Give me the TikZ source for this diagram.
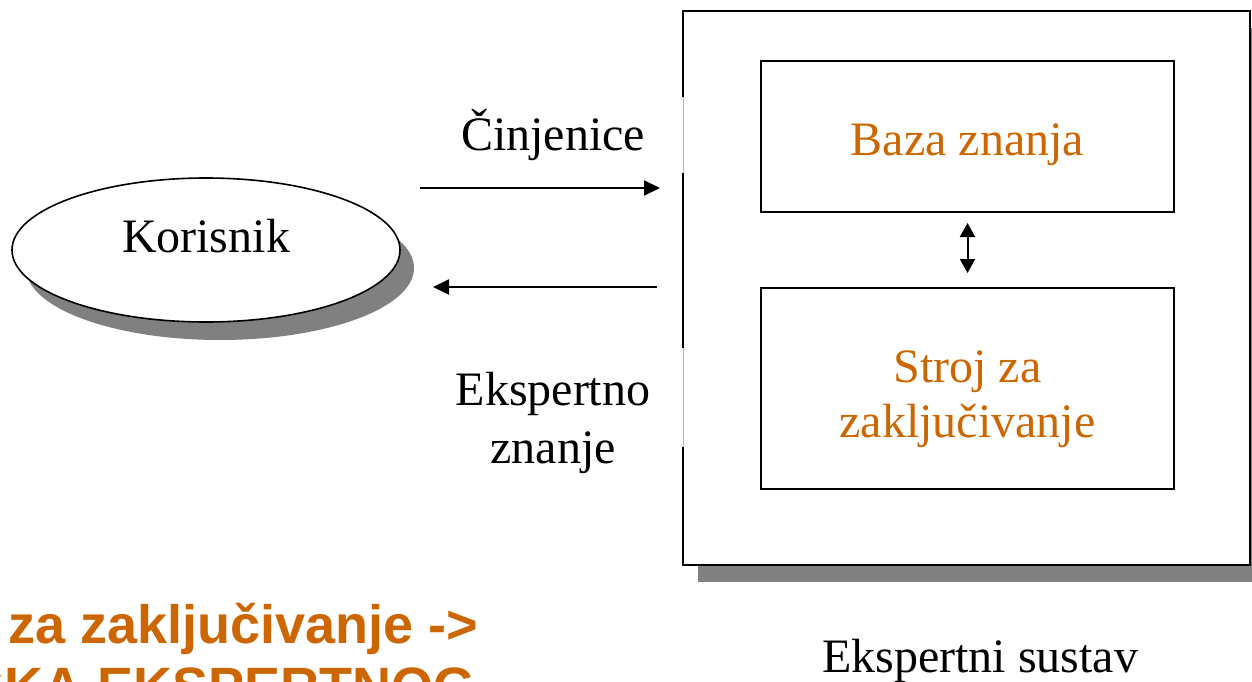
\documentclass[tikz,border=0pt]{standalone}
\usepackage{fontspec}
\setmainfont{Liberation Serif}
\newfontfamily\slidesans{Liberation Sans}
\usetikzlibrary{arrows.meta,shadows,shapes.geometric}
\definecolor{accent}{RGB}{204,102,0}
\definecolor{shade}{RGB}{128,128,128}
\begin{document}
\begin{tikzpicture}[x=1pt,y=-1pt,
  lbl/.style={font=\fontsize{48}{48}\selectfont, inner sep=0pt, anchor=base},
  acc/.style={lbl, text=accent},
  headline/.style={font=\slidesans\bfseries\fontsize{54}{54}\selectfont, text=accent, inner sep=0pt, anchor=base east},
  frame/.style={draw=black, line width=2pt},
  inbox/.style={draw=black, line width=2pt, fill=white, inner sep=0pt, minimum width=413pt},
  flow/.style={line width=2pt, -{Triangle[length=16pt,width=15pt]}},
  both/.style={line width=2pt, {Triangle[length=14pt,width=15pt]}-{Triangle[length=14pt,width=15pt]}}
]
\useasboundingbox (0,0) rectangle (1252,682);
\begin{scope}
\clip (0,0) rectangle (1252,682);

% user ellipse with its solid shadow
\node[ellipse, draw, line width=1.6pt, fill=white, minimum width=388pt, minimum height=144pt, inner sep=0pt,
      general shadow={fill=shade, shadow xshift=14pt, shadow yshift=-18pt}] (user) at (206,250) {};
\node[lbl] (userlbl) at (206,252) {Korisnik};

% expert system frame
\node[fill=white, minimum width=567pt, minimum height=554pt, inner sep=0pt,
      general shadow={fill=shade, shadow xshift=15pt, shadow yshift=-17pt}] (sys) at (966.5,288) {};
\draw[frame] (sys.west |- 0,97) -- (sys.north west) -- (sys.north east) -- (sys.south east) -- (sys.south west) -- (sys.west |- 0,447);
\draw[frame] (sys.west |- 0,173) -- (sys.west |- 0,348);
\draw[gray!55, line width=0.6pt] (sys.west |- 0,97) -- (sys.west |- 0,173) (sys.west |- 0,348) -- (sys.west |- 0,447);

% inner components
\node[inbox, minimum height=151pt] (kb) at (967.5,136.5) {};
\node[acc] (kblbl) at (967.5,155) {Baza znanja};
\node[inbox, minimum height=201pt] (ie) at (967.5,388.5) {};
\node[acc] (ielbl1) at (967.5,382) {Stroj za};
\node[acc] (ielbl2) at (967.5,437) {zaključivanje};
\draw[both, shorten <=10pt, shorten >=14pt] (kb) -- (ie);

% flows between user and system
\coordinate (factsA) at (420,188);
\coordinate (factsB) at (660,188);
\coordinate (knowA) at (657,287);
\coordinate (knowB) at (433,287);
\draw[flow] (factsA) -- (factsB);
\draw[flow] (knowA) -- (knowB);
\node[lbl] (facts) at (553,150) {Činjenice};
\node[lbl] (know1) at (553,405) {Ekspertno};
\node[lbl] (know2) at (553,463) {znanje};

% captions
\node[lbl] (syslbl) at (980,672) {Ekspertni sustav};
\node[headline] (head1) at (478,643) {za zaključivanje ->};
\node[headline] (head2) at (476,705) {SKA EKSPERTNOG};
\end{scope}
\end{tikzpicture}
\end{document}
